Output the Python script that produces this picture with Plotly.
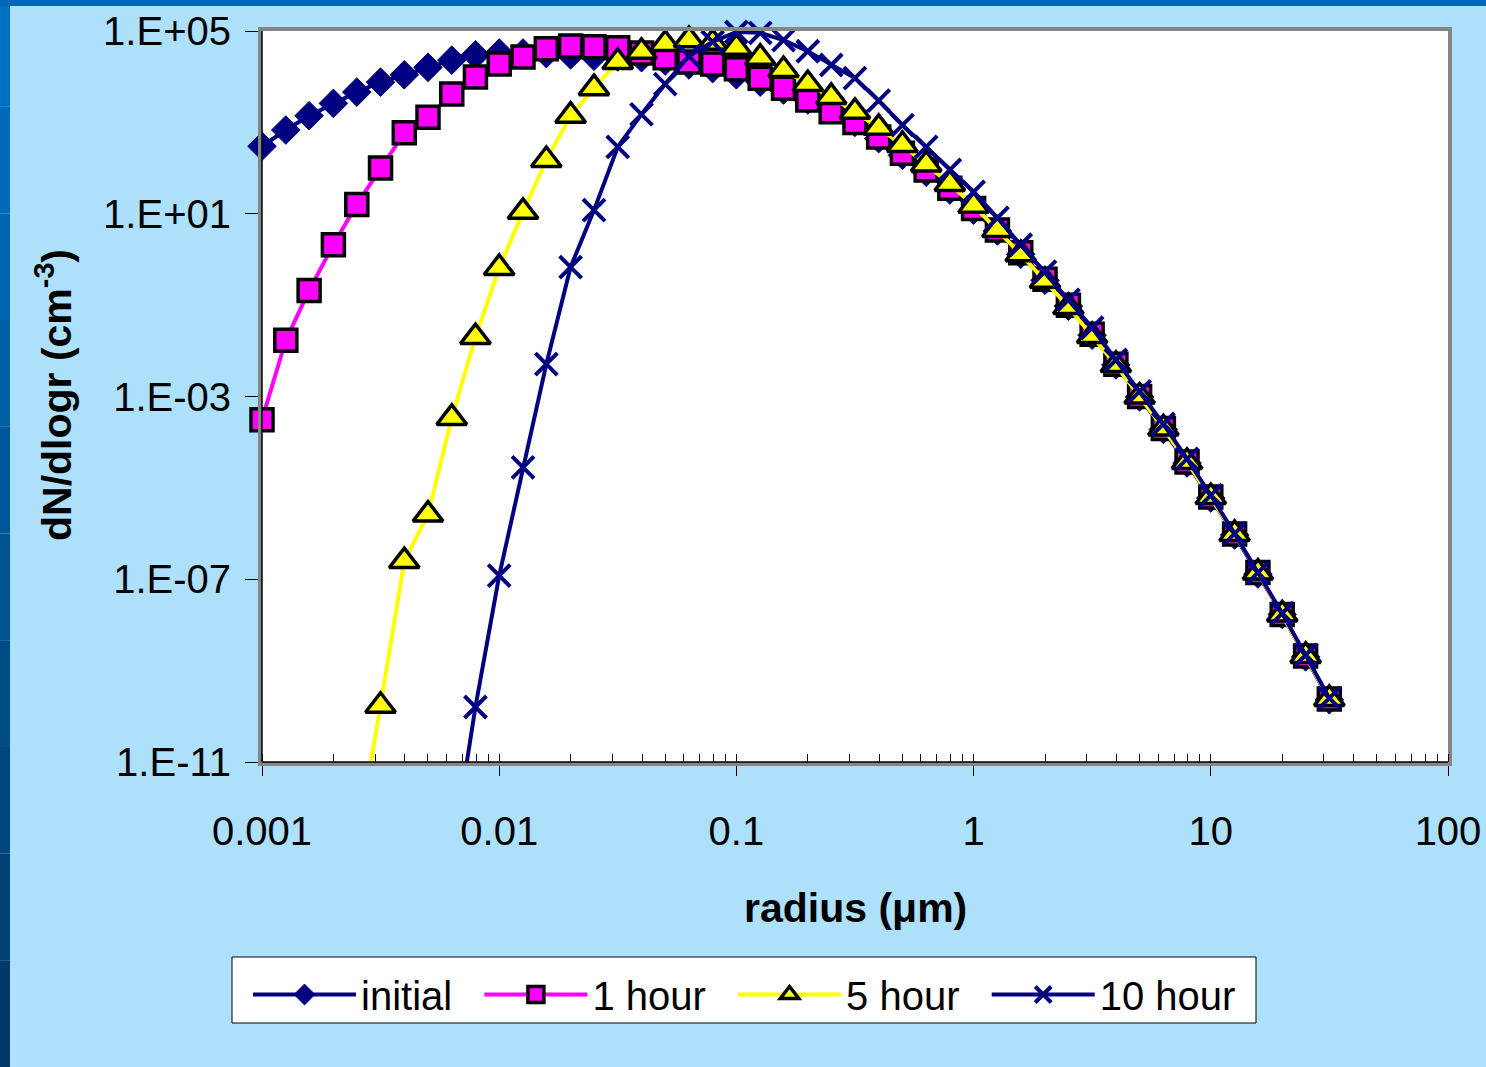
import plotly.graph_objects as go

# Particle size distribution: radius grid (um), 10 points per decade
radius = [0.001, 0.00126, 0.00158, 0.002, 0.00251, 0.00316, 0.00398, 0.00501, 0.00631, 0.00794,
          0.01, 0.0126, 0.0158, 0.02, 0.0251, 0.0316, 0.0398, 0.0501, 0.0631, 0.0794,
          0.1, 0.126, 0.158, 0.2, 0.251, 0.316, 0.398, 0.501, 0.631, 0.794,
          1.0, 1.26, 1.58, 2.0, 2.51, 3.16, 3.98, 5.01, 6.31, 7.94,
          10.0, 12.6, 15.8, 20.0, 25.1, 31.6]

# dN/dlogr (cm^-3)
initial = [3.0e2, 6.8e2, 1.4e3, 2.6e3, 4.6e3, 7.6e3, 1.1e4, 1.6e4, 2.3e4, 3.0e4,
           3.3e4, 3.3e4, 3.2e4, 3.0e4, 2.8e4, 2.7e4, 2.6e4, 2.2e4, 1.8e4, 1.5e4,
           1.1e4, 7.6e3, 5.1e3, 3.1e3, 1.9e3, 1.0e3, 4.4e2, 1.9e2, 8.1e1, 3.3e1,
           1.2e1, 4.2, 1.3, 0.35, 9.5e-2, 2.2e-2, 4.9e-3, 9.8e-4, 1.9e-4, 3.5e-5,
           6.0e-6, 9.3e-7, 1.3e-7, 1.7e-8, 2.0e-9, 2.3e-10]

one_hour = [3.1e-4, 1.7e-2, 0.21, 2.1, 16, 1.0e2, 5.9e2, 1.3e3, 4.2e3, 9.8e3,
            1.9e4, 2.7e4, 4.1e4, 4.7e4, 4.5e4, 4.3e4, 3.3e4, 2.6e4, 2.1e4, 1.9e4,
            1.5e4, 9.3e3, 5.6e3, 3.1e3, 1.7e3, 1.0e3, 4.8e2, 2.1e2, 91, 36,
            13, 4.4, 1.4, 0.37, 0.10, 2.3e-2, 5.1e-3, 1.0e-3, 2.0e-4, 3.7e-5,
            6.3e-6, 9.8e-7, 1.4e-7, 1.7e-8, 2.1e-9, 2.4e-10]

five_hour = [None, None, None, None, 1.6e-13, 1.7e-10, 2.5e-7, 2.6e-6, 3.4e-4, 2.0e-2,
             0.65, 11, 1.5e2, 1.4e3, 5.6e3, 2.1e4, 3.5e4, 5.2e4, 6.3e4, 5.5e4,
             4.3e4, 2.6e4, 1.4e4, 6.9e3, 3.6e3, 1.7e3, 7.6e2, 3.2e2, 1.2e2, 45,
             15, 4.4, 1.3, 0.34, 9.1e-2, 2.1e-2, 4.9e-3, 1.0e-3, 2.0e-4, 3.7e-5,
             6.3e-6, 9.8e-7, 1.4e-7, 1.7e-8, 2.1e-9, 2.4e-10]

ten_hour = [None, None, None, None, None, None, None, None, 7.6e-14, 1.6e-10,
            1.2e-7, 2.8e-5, 5.1e-3, 0.68, 12, 2.9e2, 1.5e3, 6.9e3, 2.8e4, 5.8e4,
            9.5e4, 9.1e4, 6.3e4, 3.6e4, 1.8e4, 9.3e3, 3.0e3, 8.7e2, 2.9e2, 91,
            30, 8.1, 2.1, 0.54, 0.13, 3.2e-2, 6.3e-3, 1.3e-3, 2.5e-4, 4.3e-5,
            6.9e-6, 1.0e-6, 1.4e-7, 1.8e-8, 2.2e-9, 2.5e-10]

series_names = ["initial", "1 hour", "5 hour", "10 hour"]

x_tick_vals = [0.001, 0.01, 0.1, 1, 10, 100]
x_tick_text = ["0.001", "0.01", "0.1", "1", "10", "100"]
y_tick_vals = [1e5, 1e1, 1e-3, 1e-7, 1e-11]
y_tick_text = ["1.E+05", "1.E+01", "1.E-03", "1.E-07", "1.E-11"]

Y_MIN = 1e-11
FONT = "Liberation Sans, Arial, sans-serif"
NAVY = "#000080"
W, H = 1486, 1067
L, R, T, B = 262, 38, 31, 305
PAD = "\u00a0\u00a0"  # trailing gap after each legend label
LW = 4


def sizes(vals, s):
    # hide markers that fall below the visible y-range
    return [0 if (v is None or v < Y_MIN) else s for v in vals]


fig = go.Figure()

fig.add_trace(go.Scatter(
    x=radius, y=initial, name=series_names[0] + PAD, mode="lines+markers", cliponaxis=False,
    line=dict(color=NAVY, width=LW),
    marker=dict(symbol="diamond", size=sizes(initial, 22), color=NAVY, opacity=1,
                line=dict(color=NAVY, width=1))))

fig.add_trace(go.Scatter(
    x=radius, y=one_hour, name=series_names[1] + PAD, mode="lines+markers", cliponaxis=False,
    line=dict(color="#FF00FF", width=LW),
    marker=dict(symbol="square", size=sizes(one_hour, 22), color="#FF00FF", opacity=1,
                line=dict(color="black", width=3.5))))

fig.add_trace(go.Scatter(
    x=radius, y=five_hour, name=series_names[2] + PAD, mode="lines+markers", cliponaxis=False,
    line=dict(color="#FFFF00", width=LW),
    marker=dict(symbol="triangle-up", size=sizes(five_hour, 26), color="#FFFF00", opacity=1,
                line=dict(color="black", width=3.5))))

fig.add_trace(go.Scatter(
    x=radius, y=ten_hour, name=series_names[3], mode="lines+markers", cliponaxis=False,
    line=dict(color=NAVY, width=LW),
    marker=dict(symbol="x-thin-open", size=sizes(ten_hour, 22), color=NAVY, opacity=1,
                line=dict(color=NAVY, width=4))))


def px_x(p):
    return (p - L) / (W - L - R)


def px_y(p):
    return (H - B - p) / (H - T - B)


shapes = []
# dark blue frame strips of the slide background
strip_cols = ["#0070C0", "#006AB8", "#0064AE", "#005EA4", "#00589A", "#005290",
              "#004C86", "#00467C", "#004072", "#003A68"]
n = len(strip_cols)
for i, c in enumerate(strip_cols):
    shapes.append(dict(type="rect", xref="paper", yref="paper",
                       x0=px_x(0), x1=px_x(10),
                       y0=px_y(H * (i + 1) / n), y1=px_y(H * i / n),
                       fillcolor=c, line=dict(width=0), layer="below"))
shapes.append(dict(type="rect", xref="paper", yref="paper",
                   x0=px_x(0), x1=px_x(W), y0=px_y(6), y1=px_y(0),
                   fillcolor="#0068B8", line=dict(width=0), layer="below"))
# dark inner lines of the bottom and left axes
shapes.append(dict(type="line", xref="paper", yref="paper", x0=0, x1=1, y0=0, y1=0,
                   line=dict(color="black", width=1.5)))
shapes.append(dict(type="line", xref="paper", yref="paper", x0=0, x1=0, y0=0, y1=1,
                   line=dict(color="black", width=1.5)))
# legend frame
shapes.append(dict(type="rect", xref="paper", yref="paper",
                   x0=px_x(232), x1=px_x(1256), y0=px_y(1023), y1=px_y(957),
                   fillcolor="white", line=dict(color="black", width=1), layer="below"))

annotations = [
    dict(text="<b>radius (\u03bcm)</b>", xref="paper", yref="paper",
         x=px_x(855), y=px_y(908), xanchor="center", yanchor="middle",
         showarrow=False, font=dict(family=FONT, size=41, color="black")),
    dict(text="<b>dN/dlogr (cm<sup>-3</sup>)</b>", xref="paper", yref="paper",
         x=px_x(54), y=px_y(395), xanchor="center", yanchor="middle", textangle=-90,
         showarrow=False, font=dict(family=FONT, size=41, color="black")),
]

fig.update_layout(
    width=W, height=H,
    margin=dict(l=L, r=R, t=T, b=B, autoexpand=False),
    paper_bgcolor="#ADE0FB",
    plot_bgcolor="white",
    font=dict(family=FONT, color="black"),
    shapes=shapes,
    annotations=annotations,
    xaxis=dict(type="log", range=[-3, 2], tickvals=x_tick_vals, ticktext=x_tick_text,
               ticks="outside", ticklen=10, tickwidth=1, tickcolor="black",
               minor=dict(ticks="inside", ticklen=8, tickwidth=1, tickcolor="black",
                          dtick="D1", showgrid=False),
               showgrid=False, zeroline=False, automargin=False,
               showline=True, mirror=True, linecolor="#858585", linewidth=4,
               tickfont=dict(family=FONT, size=40, color="black"),
               ticklabelstandoff=21),
    yaxis=dict(type="log", range=[-11, 5], tickvals=y_tick_vals, ticktext=y_tick_text,
               ticks="outside", ticklen=13, tickwidth=1, tickcolor="black",
               showgrid=False, zeroline=False, automargin=False,
               showline=True, mirror=True, linecolor="#858585", linewidth=4,
               tickfont=dict(family=FONT, size=40, color="black"),
               ticklabelstandoff=6),
    xaxis2=dict(type="log", range=[-3, 2], overlaying="x", anchor="y",
                tickvals=x_tick_vals, ticks="inside", ticklen=13, tickwidth=1,
                tickcolor="black", showticklabels=False, showgrid=False,
                zeroline=False, showline=False, automargin=False),
    yaxis2=dict(type="log", range=[-11, 5], overlaying="y", anchor="x", side="left",
                tickvals=y_tick_vals, ticks="inside", ticklen=12, tickwidth=1,
                tickcolor="black", showticklabels=False, showgrid=False,
                zeroline=False, showline=False, automargin=False),
    legend=dict(orientation="h", x=px_x(248), xanchor="left",
                y=px_y(962), yanchor="top",
                bgcolor="rgba(0,0,0,0)", borderwidth=0,
                font=dict(family=FONT, size=40, color="black"),
                itemwidth=103, tracegroupgap=0),
)

fig.write_html("out.html")
